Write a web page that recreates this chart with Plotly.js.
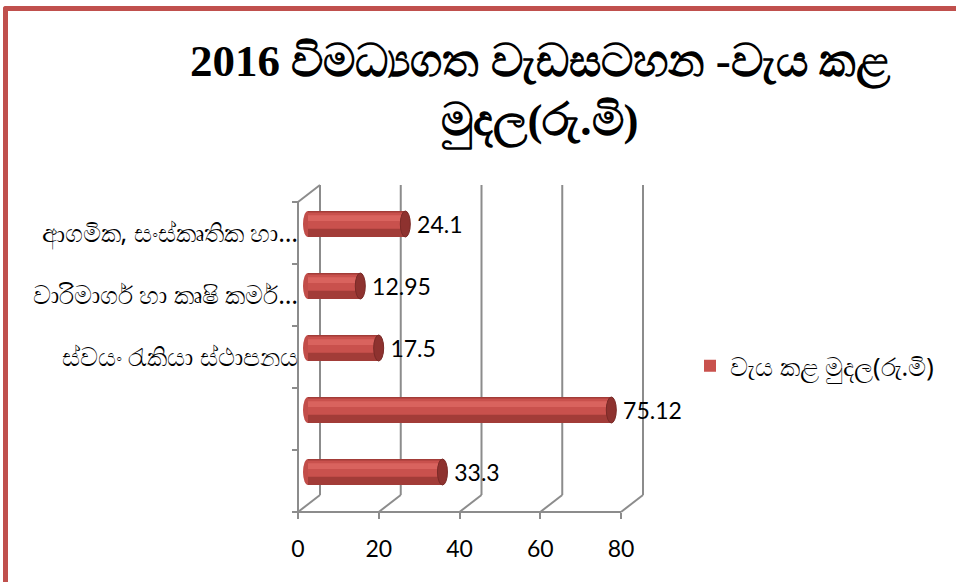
<!DOCTYPE html>
<html>
<head>
<meta charset="utf-8">
<script src="https://cdn.plot.ly/plotly-3.0.1.min.js"></script>
<style>
  html, body { margin: 0; padding: 0; background: #ffffff; overflow: hidden; }
  #chart { position: absolute; left: 0; top: 0; width: 956px; height: 582px; }
  #frame { position: absolute; left: 3px; top: 6px; width: 980px; height: 620px;
           border-top: 5px solid #C0504D; border-left: 5px solid #C0504D;
           border-top-left-radius: 3px; pointer-events: none; box-sizing: border-box; }
</style>
</head>
<body>
<div id="chart"></div>
<div id="frame"></div>
<script>
// ---- data (top to bottom as in the picture) ----
const categories = [
  'ආගමික, සංස්කෘතික හා…',
  'වාරිමාර්ග හා කෘෂි කර්ම…',
  'ස්වයං රැකියා ස්ථාපනය',
  '\u200b',
  '\u200b\u200b'
];
const values = [24.1, 12.95, 17.5, 75.12, 33.3];
const xTicks = [0, 20, 40, 60, 80];
const seriesName = 'වැය කළ මුදල(රු.මි)';
const titleText = '<b>2016 විමධ්‍යගත වැඩසටහන -වැය කළ<br>මුදල(රු.මි)</b>';

// ---- geometry ----
const W = 956, H = 582;
const pxX = 323 / 80;      // pixels per x unit on the front plane
const pxY = 62;            // pixels per category
const depthXpx = 22, depthYpx = 17;
const slack = 4;
const dX = depthXpx / pxX, dY = depthYpx / pxY;
const xr = [-slack / pxX, 80 + (depthXpx + slack) / pxX];
const yr = [categories.length - 0.5 + slack / pxY, -0.5 - (depthYpx + slack) / pxY];
const plotW = (xr[1] - xr[0]) * pxX;
const plotH = (yr[0] - yr[1]) * pxY;
const mL = 298 - slack, mB = H - 512 - slack;
const mT = H - mB - plotH, mR = W - mL - plotW;

// bar subplot shift (bars sit half way into the depth)
const barShiftX = 10 / pxX, barShiftY = 9 / pxY;
const barW = 26 / pxY;
const gridColor = '#8C8C8C';
const yIdx = categories.map((c, i) => i);
const floorY = categories.length - 0.5, topY = -0.5;

const shapes = [];
const line = (x0, y0, x1, y1) => ({type: 'line', xref: 'x', yref: 'y', x0, y0, x1, y1,
  line: {color: gridColor, width: 2}, layer: 'below'});
xTicks.forEach(v => {
  shapes.push(line(v + dX, floorY - dY, v + dX, topY - dY));
  shapes.push(line(v, floorY, v + dX, floorY - dY));
});
shapes.push(line(0, floorY, xTicks[xTicks.length - 1], floorY));
shapes.push(line(0, floorY, 0, topY));
shapes.push(line(0, topY, dX, topY - dY));

// cylinder caps
values.forEach((v, i) => {
  shapes.push({type: 'circle', xref: 'x2', yref: 'y2', xsizemode: 'pixel', xanchor: 0,
    x0: -5, x1: 5, y0: i - barW / 2, y1: i + barW / 2,
    fillcolor: '#C24D49', line: {width: 0}, layer: 'below'});
  shapes.push({type: 'circle', xref: 'x2', yref: 'y2', xsizemode: 'pixel', xanchor: v,
    x0: -5, x1: 5, y0: i - barW / 2, y1: i + barW / 2,
    fillcolor: '#8E322F', line: {color: '#7A2A27', width: 1}, layer: 'above'});
});

const traces = [
  {type: 'bar', orientation: 'h', x: values, y: yIdx, xaxis: 'x2', yaxis: 'y2',
   width: barW, marker: {color: '#A23C38', line: {width: 0}}, showlegend: false,
   text: values.map(v => '\u00a0\u2009' + v), textposition: 'outside', constraintext: 'none',
   cliponaxis: false, textfont: {family: 'Lato, "Open Sans", sans-serif', size: 23, color: '#000'},
   hoverinfo: 'x'},
  {type: 'bar', orientation: 'h', x: values, y: yIdx, xaxis: 'x2', yaxis: 'y2',
   width: barW * 0.62, offset: -barW / 2 + barW * 0.06, name: seriesName,
   marker: {color: '#C9514D', line: {width: 0}}, hoverinfo: 'skip'},
  {type: 'bar', orientation: 'h', x: values, y: yIdx, xaxis: 'x2', yaxis: 'y2',
   width: barW * 0.22, offset: -barW / 2 + barW * 0.16, showlegend: false,
   marker: {color: '#D9635E', line: {width: 0}}, hoverinfo: 'skip'}
];

const layout = {
  width: W, height: H,
  margin: {l: mL, r: mR, t: mT, b: mB, pad: 0},
  paper_bgcolor: '#ffffff', plot_bgcolor: 'rgba(0,0,0,0)',
  font: {family: '"Noto Sans", "DejaVu Sans", sans-serif', color: '#000'},
  title: {text: titleText, x: 540 / W, xanchor: 'center', xref: 'container',
          y: 1 - 76 / H, yanchor: 'top', yref: 'container',
          font: {family: '"Liberation Serif", "Noto Sans", serif', size: 45, color: '#000'}},
  barmode: 'overlay',
  showlegend: true,
  legend: {x: (690 - mL) / plotW, xanchor: 'left', y: (H - mB - 366) / plotH, yanchor: 'middle',
           font: {size: 25, color: '#000'}, bgcolor: 'rgba(0,0,0,0)'},
  xaxis: {range: xr, anchor: 'free', position: slack / plotH, showgrid: false, zeroline: false,
          showline: false, tickvals: xTicks, ticks: 'outside', ticklen: 6, tickwidth: 2,
          ticklabelstandoff: 10,
          tickcolor: gridColor, tickfont: {family: 'Lato, "Open Sans", sans-serif', size: 23, color: '#000'},
          fixedrange: true},
  yaxis: {range: yr, type: 'category', categoryarray: categories, categoryorder: 'array',
          anchor: 'free', position: slack / plotW, showgrid: false, zeroline: false, showline: false,
          ticks: 'outside', tickson: 'boundaries', ticklen: 6, tickwidth: 2, tickcolor: gridColor,
          tickmode: 'array', tickvals: yIdx, ticktext: categories,
          tickfont: {size: 25, color: '#000'}, fixedrange: true},
  xaxis2: {range: [xr[0] - barShiftX, xr[1] - barShiftX], anchor: 'y2', visible: false, fixedrange: true},
  yaxis2: {range: [yr[0] + barShiftY, yr[1] + barShiftY], anchor: 'x2', visible: false, fixedrange: true},
  shapes: shapes
};

Plotly.newPlot('chart', traces, layout, {displayModeBar: false, staticPlot: true});
</script>
</body>
</html>
